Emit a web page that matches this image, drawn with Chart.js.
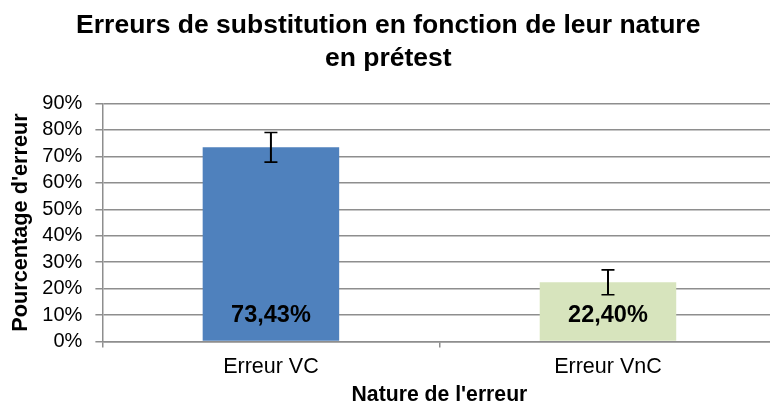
<!DOCTYPE html>
<html>
<head>
<meta charset="utf-8">
<script src="https://cdn.jsdelivr.net/npm/chart.js@4/dist/chart.umd.min.js"></script>
<style>
  html, body { margin: 0; padding: 0; background: #fff; }
  #wrap { width: 770px; height: 406px; overflow: hidden; position: relative; }
  canvas { display: block; }
</style>
</head>
<body>
<div id="wrap"><canvas id="c" width="782" height="406"></canvas></div>
<script>
// Substitution errors by nature, pretest (percent)
const categories = ['Erreur VC', 'Erreur VnC'];
const errorRates = [73.43, 22.40];
const errorMargins = [5.6, 4.7];
const barColors = ['#4F81BD', '#D7E4BD'];
const yTicks = [0, 10, 20, 30, 40, 50, 60, 70, 80, 90];

const FONT = '"Liberation Sans", Arial, Helvetica, sans-serif';
const GRID = '#8e8e8e';

function frPercent(v) {
  return v.toFixed(2).replace('.', ',') + '%';
}

// Draws the error bars and the value labels inside each bar base
const barExtras = {
  id: 'barExtras',
  afterDatasetsDraw(chart) {
    const ctx = chart.ctx;
    const y = chart.scales.y;
    const meta = chart.getDatasetMeta(0);
    ctx.save();
    meta.data.forEach((bar, i) => {
      const v = errorRates[i];
      const e = errorMargins[i];
      const x = bar.x;
      const yTop = y.getPixelForValue(v + e);
      const yBot = y.getPixelForValue(v - e);
      ctx.strokeStyle = '#000';
      ctx.lineWidth = 2;
      ctx.beginPath();
      ctx.moveTo(x, yTop);
      ctx.lineTo(x, yBot);
      ctx.stroke();
      ctx.lineWidth = 1.6;
      ctx.beginPath();
      ctx.moveTo(x - 6.5, yTop);
      ctx.lineTo(x + 6.5, yTop);
      ctx.moveTo(x - 6.5, yBot);
      ctx.lineTo(x + 6.5, yBot);
      ctx.stroke();

      ctx.fillStyle = '#000';
      ctx.font = 'bold 23.5px ' + FONT;
      ctx.textAlign = 'center';
      ctx.textBaseline = 'alphabetic';
      ctx.fillText(frPercent(v), x, y.getPixelForValue(0) - 19.5);
    });
    ctx.restore();
  }
};

new Chart(document.getElementById('c'), {
  type: 'bar',
  data: {
    labels: categories,
    datasets: [{
      data: errorRates,
      backgroundColor: barColors,
      borderWidth: 0,
      categoryPercentage: 1,
      barPercentage: 0.405
    }]
  },
  options: {
    responsive: false,
    animation: false,
    devicePixelRatio: 1,
    layout: { padding: { left: 0, right: 5.5, top: 0, bottom: 0 } },
    plugins: {
      legend: { display: false },
      tooltip: { enabled: false },
      title: {
        display: true,
        text: ['Erreurs de substitution en fonction de leur nature', 'en prétest'],
        color: '#000',
        font: { family: FONT, size: 26.5, weight: 'bold', lineHeight: 1.24 },
        padding: { top: 9.5, bottom: 28.3 }
      }
    },
    scales: {
      x: {
        offset: true,
        grid: {
          display: true,
          drawOnChartArea: false,
          drawTicks: true,
          tickLength: 6,
          offset: true,
          color: GRID,
          lineWidth: 1.5
        },
        border: { display: true, color: GRID, width: 1.5 },
        ticks: {
          color: '#000',
          font: { family: FONT, size: 21.5 },
          padding: 7
        },
        title: {
          display: true,
          text: "Nature de l'erreur",
          color: '#000',
          font: { family: FONT, size: 21.2, weight: 'bold', lineHeight: 1 },
          padding: { top: 0, bottom: 0 }
        },
        afterFit(scale) { scale.height = 64.5; }
      },
      y: {
        min: 0,
        max: 90,
        afterBuildTicks(scale) { scale.ticks = yTicks.map(v => ({ value: v })); },
        grid: {
          color: GRID,
          lineWidth: 1.5,
          drawTicks: true,
          tickLength: 7
        },
        border: { display: true, color: GRID, width: 1.5 },
        ticks: {
          color: '#000',
          font: { family: FONT, size: 20 },
          padding: 13,
          autoSkip: false,
          callback: v => v + '%'
        },
        title: {
          display: true,
          text: "Pourcentage d'erreur",
          color: '#000',
          font: { family: FONT, size: 21.7, weight: 'bold', lineHeight: 1.2 },
          padding: { top: 8, bottom: 0 }
        },
        afterFit(scale) { scale.width = 102.4; }
      }
    }
  },
  plugins: [barExtras]
});
</script>
</body>
</html>
